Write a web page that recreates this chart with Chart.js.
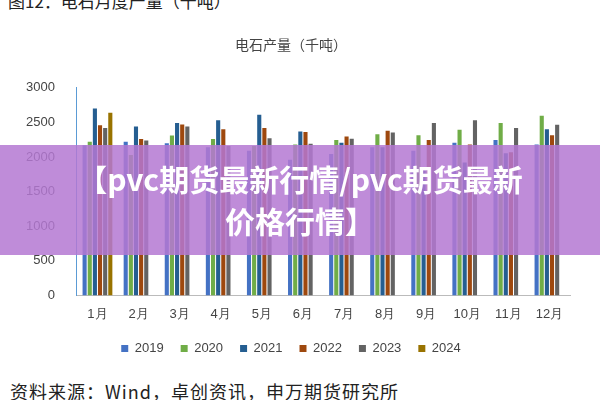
<!DOCTYPE html>
<html>
<head>
<script src="https://cdn.jsdelivr.net/npm/chart.js"></script>
<style>
body { margin: 0; width: 600px; height: 400px; background: #fff; font-family: "Noto Sans CJK SC", sans-serif; position: relative; overflow: hidden; }
.top { position: absolute; top: -12px; left: 8px; font-size: 17px; color: #222; }
.bottom { position: absolute; top: 378px; left: 10px; font-size: 18px; color: #222; letter-spacing: 1px; }
.wrap { position: absolute; left: 0; top: 30px; width: 600px; height: 335px; }
.banner { position: absolute; left: 0; top: 145px; width: 600px; height: 110px; background: rgba(180,120,210,0.85); color: #fff; font-weight: bold; font-size: 30px; text-align: center; line-height: 42px; padding-top: 12px; box-sizing: border-box; }
</style>
</head>
<body>
<div class="top">图12：电石月度产量（千吨）</div>
<div class="wrap"><canvas id="c"></canvas></div>
<div class="banner">【pvc期货最新行情/pvc期货最新<br>价格行情】</div>
<div class="bottom">资料来源：Wind，卓创资讯，申万期货研究所</div>
<script>
const months = ['1月','2月','3月','4月','5月','6月','7月','8月','9月','10月','11月','12月'];
const y2019 = [2170,2220,2200,2140,2090,1960,2045,2140,2090,2205,2245,2180];
const y2020 = [2220,2030,2310,2260,2160,2180,2245,2330,2315,2395,2490,2595];
const y2021 = [2700,2440,2490,2530,2610,2370,2205,2140,1805,1920,2055,2400];
const y2022 = [2460,2260,2470,2400,2420,2360,2295,2380,2245,2180,2070,2315];
const y2023 = [2420,2240,2440,2160,2270,2190,2265,2355,2490,2530,2420,2465];
const y2024 = [2640];
const mk = (l, d, c) => ({ label: l, data: d, backgroundColor: c, barPercentage: 0.8, categoryPercentage: 0.75 });
new Chart(document.getElementById('c'), {
  type: 'bar',
  data: { labels: months, datasets: [
    mk('2019', y2019, '#4472c4'), mk('2020', y2020, '#70ad47'), mk('2021', y2021, '#255e91'),
    mk('2022', y2022, '#9e480e'), mk('2023', y2023, '#636363'), mk('2024', y2024, '#997300')
  ]},
  options: {
    responsive: true, maintainAspectRatio: false, animation: false,
    layout: { padding: { left: 12, right: 30 } },
    plugins: {
      title: { display: true, text: '电石产量（千吨）', color: '#444', font: { size: 14, family: 'Noto Sans CJK SC', weight: 'normal' }, padding: { top: 6, bottom: 35 } },
      legend: { position: 'bottom', labels: { boxWidth: 7, boxHeight: 7, padding: 17, color: '#444', font: { size: 13 } } }
    },
    scales: {
      x: { grid: { display: false }, border: { color: '#bbb' }, ticks: { color: '#444', font: { size: 13 } } },
      y: { min: 0, max: 3000, ticks: { stepSize: 500, padding: 14, color: '#444', font: { size: 13 }, callback: v => String(v) }, grid: { display: false }, border: { color: '#5b9bd5' } }
    }
  }
});
</script>
</body>
</html>
